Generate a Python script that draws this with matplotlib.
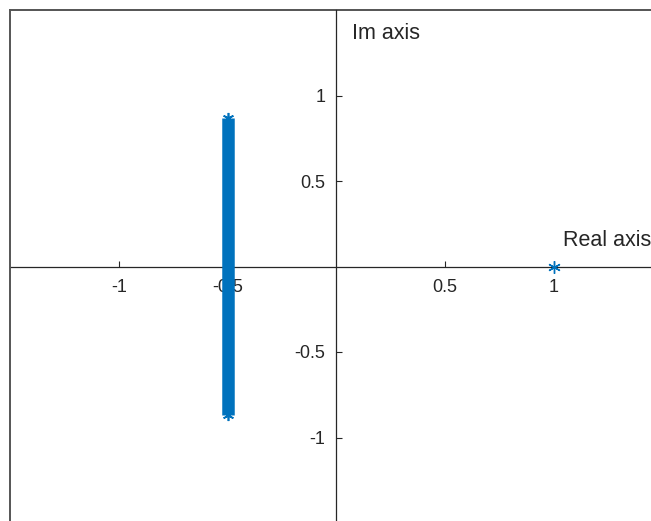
import numpy as np
import matplotlib
matplotlib.use("Agg")
import matplotlib.pyplot as plt

plt.rcParams["font.family"] = ["Liberation Sans", "DejaVu Sans"]

# ── data ─────────────────────────────────────────────────────────────────────
pole_re = [-0.5, -0.5]          # column of roots at Re = -0.5
pole_im = [-0.866, 0.866]
zero_re = [1.0]                 # single point on the real axis
zero_im = [0.0]
xticks = [-1, -0.5, 0.5, 1]
yticks = [-1, -0.5, 0.5, 1]
tick_lbl = ["-1", "-0.5", "0.5", "1"]

BLUE = "#0072BD"
AX = "#262626"
STAR = (6, 2, 0)                # MATLAB-like asterisk

fig = plt.figure(figsize=(6.51, 5.21), dpi=100)
# axes run past the right/bottom edge of the picture (cropped MATLAB figure)
ax = fig.add_axes([10 / 651, -2 / 521, 652.5 / 651, 513 / 521])
ax.set_xlim(-1.5, 1.5)
ax.set_ylim(-1.5, 1.5)

ax.spines["left"].set_position("zero")
ax.spines["bottom"].set_position("zero")
for s in ("left", "bottom"):
    ax.spines[s].set_color(AX)
    ax.spines[s].set_linewidth(0.9)
for s in ("top", "right"):
    ax.spines[s].set_color(AX)
    ax.spines[s].set_linewidth(1.1)
# left edge of the box
ax.axvline(-1.5, color="#555555", lw=1.4, clip_on=False, zorder=2.6)

ax.set_xticks(xticks)
ax.set_xticklabels(tick_lbl)
ax.set_yticks(yticks)
ax.set_yticklabels(tick_lbl)
ax.tick_params(axis="x", direction="in", length=4, width=0.8, color=AX,
               labelsize=13, labelcolor="#262626", pad=9)
ax.tick_params(axis="y", direction="in", length=4, width=0.8, color=AX,
               labelsize=13, labelcolor="#262626", pad=8)

ax.plot(pole_re, pole_im, "-", marker=STAR, color=BLUE, lw=9, ms=8, mew=1.2,
        solid_capstyle="butt", zorder=3, clip_on=False)
ax.plot(zero_re, zero_im, ls="none", marker=STAR, color=BLUE, ms=9, mew=1.0,
        zorder=3)

ax.text(1.044, 0.153, "Real axis", fontsize=15.5, color="#262626",
        ha="left", va="center")
ax.text(0.072, 1.362, "Im axis", fontsize=15.5, color="#262626",
        ha="left", va="center")

fig.savefig("out.png", dpi=100, facecolor="white")
